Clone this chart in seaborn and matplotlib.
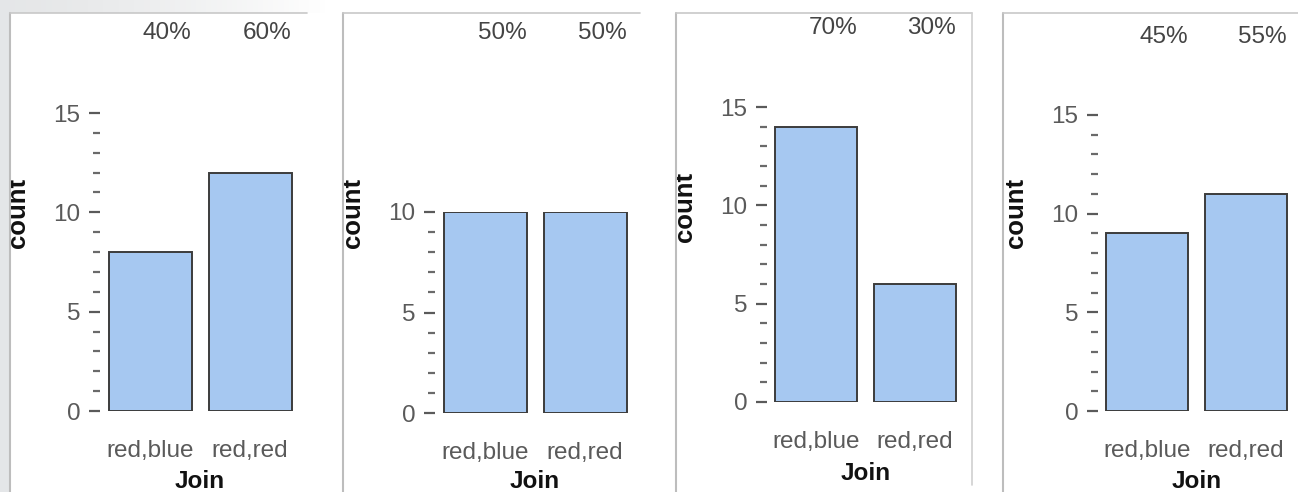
import matplotlib
matplotlib.use("Agg")
import matplotlib.pyplot as plt
import matplotlib.transforms as mtransforms
from matplotlib.lines import Line2D
from matplotlib.patches import Rectangle
from matplotlib.ticker import MultipleLocator
import numpy as np
import seaborn as sns
import pandas as pd

# data
categories = ["red,blue", "red,red"]
counts_1 = [8, 12]
counts_2 = [10, 10]
counts_3 = [14, 6]
counts_4 = [9, 11]
x_title = "Join"
y_title = "count"

sns.set_theme(style="white")
plt.rcParams["font.family"] = ["Liberation Sans", "DejaVu Sans"]

W, H = 1298, 492
fig = plt.figure(figsize=(W / 100, H / 100), dpi=100)
fig.patch.set_facecolor("white")

# grey page edge: left strip plus a top strip fading to white
fig.patches.append(Rectangle((0, 0), 10 / W, 1, transform=fig.transFigure,
                             facecolor="#e4e6e8", edgecolor="none", zorder=0))
bg = fig.add_axes([0, 1 - 13 / H, 330 / W, 13 / H], zorder=-1)
fade = np.linspace(0, 1, 64)
grad = np.ones((1, 64, 3))
for k, (a, b) in enumerate(zip((0.90, 0.905, 0.91), (1.0, 1.0, 1.0))):
    grad[0, :, k] = a + (b - a) * fade ** 1.5
bg.imshow(grad, aspect="auto", extent=(0, 1, 0, 1))
bg.set_axis_off()

# panel frames: left x, top y, right x, right border drawn?
frames = [(10, 13, 307, False), (343, 13, 640, False), (676, 13, 972, True), (1003, 13, 1298, False)]
for fl, ft, fr, has_right in frames:
    fig.lines.append(Line2D([fl / W, fl / W], [0, 1 - ft / H], transform=fig.transFigure,
                            color="#bdbdbd", lw=1.5))
    fig.lines.append(Line2D([fl / W, fr / W], [1 - ft / H, 1 - ft / H], transform=fig.transFigure,
                            color="#c8c8c8", lw=1.2))
    if has_right:
        fig.lines.append(Line2D([fr / W, fr / W], [1 - 485 / H, 1 - ft / H], transform=fig.transFigure,
                                color="#d0d0d0", lw=1.2))

# layout per panel (pixels): left, right, y of 0, y of top, ymax, pct y, count y, join y
layout = [
    (100, 300, 411, 113, 15, 33, 213, 482),
    (435, 635, 413, 212, 10, 33, 213, 482),
    (767, 964, 402, 107, 15, 28, 207, 473),
    (1098, 1295, 411, 115, 15, 37, 213, 482),
]
all_counts = [counts_1, counts_2, counts_3, counts_4]

FS = 17.5
for counts, (l, r, y0, yt, ymax, pct_y, cnt_y, join_y) in zip(all_counts, layout):
    ax = fig.add_axes([l / W, 1 - y0 / H, (r - l) / W, (y0 - yt) / H])
    ax.patch.set_alpha(0)
    df = pd.DataFrame({"Join": categories, "count": counts})
    sns.barplot(data=df, x="Join", y="count", ax=ax, color="#a6c8f1", saturation=1,
                edgecolor="#3c3c3c", linewidth=1.4, width=0.83)
    ax.set_xlim(-0.5, 1.5)
    ax.set_ylim(0, ymax)
    for s in ax.spines.values():
        s.set_visible(False)

    ax.yaxis.set_major_locator(MultipleLocator(5))
    ax.yaxis.set_minor_locator(MultipleLocator(1))
    ax.tick_params(axis="y", which="major", left=True, length=8, width=1.6, color="#5a5a5a",
                   pad=6, labelsize=FS, labelcolor="#5a5a5a")
    ax.tick_params(axis="y", which="minor", left=True, length=5, width=1.6, color="#6a6a6a")
    ax.tick_params(axis="x", length=0, pad=21, labelsize=FS, labelcolor="#5a5a5a")

    ax.set_xlabel(x_title, fontsize=FS, fontweight="bold", color="#111111")
    ax.xaxis.set_label_coords(((l + r) / 2) / W, 1 - join_y / H, transform=fig.transFigure)
    ax.xaxis.label.set_va("center")
    ax.set_ylabel(y_title, fontsize=FS + 1, fontweight="bold", color="#111111")
    ax.yaxis.set_label_coords((l - 82) / W, 1 - cnt_y / H, transform=fig.transFigure)
    ax.yaxis.label.set_va("center")

    total = sum(counts)
    trans = mtransforms.blended_transform_factory(ax.transData, fig.transFigure)
    for i, c in enumerate(counts):
        ax.text(i + 0.17, 1 - pct_y / H, f"{round(100 * c / total)}%", transform=trans,
                ha="center", va="center", fontsize=FS, color="#444444")

fig.savefig("out.png", dpi=100)
